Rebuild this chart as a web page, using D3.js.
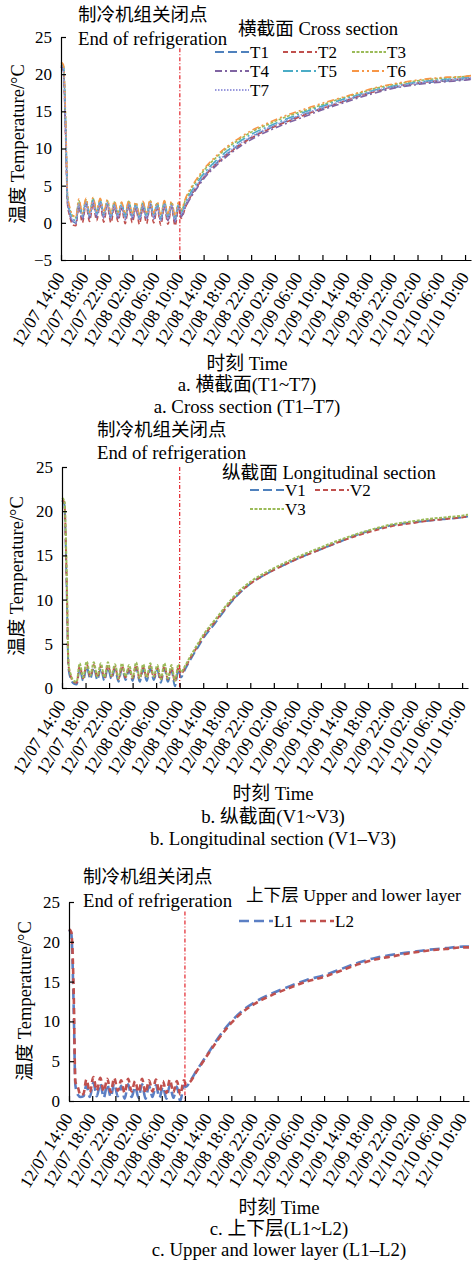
<!DOCTYPE html>
<html>
<head>
<meta charset="utf-8">
<script src="https://cdn.jsdelivr.net/npm/d3@7"></script>
<style>
body { margin: 0; background: #fff; }
text { font-family: "Liberation Serif", "Times New Roman", "Noto Sans CJK SC", serif; fill: #000; }
</style>
</head>
<body>
<svg id="chart" width="473" height="1261"></svg>
<script>
// hours after 12/07 14:00
var hours = [0, 0.4, 0.8, 1.1, 1.5, 2.0, 2.5,
  3.0, 3.6, 4.2, 4.8, 5.4, 6.0, 6.6, 7.2, 7.8, 8.4, 9.0, 9.6, 10.2, 10.8, 11.4, 12.0, 12.6, 13.2, 13.8, 14.4, 15.0, 15.6, 16.2, 16.8, 17.4, 18.0, 18.6, 19.2, 19.8,
  20.2, 21, 22, 23, 24, 26, 28, 30, 32, 35, 38, 41, 44, 47, 50, 53, 56, 59, 62, 65, 68, 69]

var tickHours = [0, 4, 8, 12, 16, 20, 24, 28, 32, 36, 40, 44, 48, 52, 56, 60, 64, 68]
var tickLabels = ["12/07 14:00", "12/07 18:00", "12/07 22:00", "12/08 02:00", "12/08 06:00", "12/08 10:00",
  "12/08 14:00", "12/08 18:00", "12/08 22:00", "12/09 02:00", "12/09 06:00", "12/09 10:00",
  "12/09 14:00", "12/09 18:00", "12/09 22:00", "12/10 02:00", "12/10 06:00", "12/10 10:00"]
var refrigerationOff = 20   // 12/08 10:00

// a. cross section
var T1 = [21.2, 20.8, 12.0, 3.0, 1.2, 0.2, 0.0,
  2.6, 0.6, 2.8, 0.8, 3.0, 1.0, 2.9, 0.8, 2.7, 0.7, 2.5, 0.8, 2.4, 0.6, 2.6, 0.7, 2.4, 0.5, 2.5, 0.6, 2.7, 0.7, 2.4, 0.4, 2.6, 0.5, 2.5, 0.3, 2.4,
  1.0, 2.4, 3.9, 5.1, 6.2, 7.9, 9.3, 10.5, 11.5, 12.7, 13.7, 14.6, 15.4, 16.2, 17.0, 17.7, 18.2, 18.6, 18.9, 19.1, 19.3, 19.4]
var T2 = [21.0, 20.5, 11.0, 2.5, 0.8, -0.3, -0.4,
  2.2, 0.0, 2.5, 0.2, 2.6, 0.3, 2.5, 0.1, 2.3, 0.0, 2.1, 0.2, 2.0, -0.1, 2.2, 0.0, 2.0, -0.2, 2.1, -0.1, 2.3, 0.0, 2.0, -0.3, 2.2, -0.2, 2.1, -0.4, 2.0,
  0.6, 2.2, 3.8, 5.0, 6.1, 7.8, 9.2, 10.4, 11.4, 12.6, 13.6, 14.5, 15.4, 16.2, 17.0, 17.7, 18.3, 18.7, 19.0, 19.2, 19.4, 19.5]
var T3 = [21.5, 21.2, 13.0, 3.6, 1.8, 0.9, 0.7,
  3.0, 1.2, 3.1, 1.3, 3.3, 1.5, 3.2, 1.3, 3.0, 1.2, 2.8, 1.3, 2.7, 1.1, 2.9, 1.2, 2.7, 1.0, 2.8, 1.1, 3.0, 1.2, 2.7, 0.9, 2.9, 1.0, 2.8, 0.8, 2.7,
  1.6, 3.2, 4.7, 5.9, 7.0, 8.7, 10.1, 11.2, 12.2, 13.3, 14.3, 15.1, 15.9, 16.7, 17.4, 18.1, 18.6, 19.0, 19.3, 19.5, 19.7, 19.8]
var T4 = [21.0, 20.6, 11.5, 2.8, 1.0, 0.1, -0.1,
  2.4, 0.4, 2.6, 0.6, 2.8, 0.7, 2.7, 0.6, 2.5, 0.5, 2.3, 0.6, 2.2, 0.4, 2.4, 0.5, 2.2, 0.3, 2.3, 0.4, 2.5, 0.5, 2.2, 0.2, 2.4, 0.3, 2.3, 0.1, 2.2,
  0.8, 2.2, 3.6, 4.8, 5.9, 7.6, 9.0, 10.2, 11.2, 12.4, 13.4, 14.3, 15.2, 16.0, 16.8, 17.5, 18.1, 18.5, 18.8, 19.0, 19.2, 19.3]
var T5 = [21.3, 21.0, 12.5, 3.3, 1.5, 0.5, 0.3,
  2.8, 0.9, 3.0, 1.0, 3.1, 1.2, 3.0, 1.0, 2.8, 0.9, 2.6, 1.0, 2.5, 0.8, 2.7, 0.9, 2.5, 0.7, 2.6, 0.8, 2.8, 0.9, 2.5, 0.6, 2.7, 0.7, 2.6, 0.5, 2.5,
  1.3, 2.8, 4.3, 5.5, 6.6, 8.3, 9.7, 10.9, 11.9, 13.0, 14.0, 14.9, 15.7, 16.5, 17.2, 17.9, 18.4, 18.8, 19.1, 19.3, 19.5, 19.6]
var T6 = [21.6, 21.3, 13.5, 3.8, 2.0, 1.0, 0.8,
  3.2, 1.3, 3.3, 1.4, 3.4, 1.6, 3.3, 1.4, 3.1, 1.3, 2.9, 1.4, 2.8, 1.2, 3.0, 1.3, 2.8, 1.1, 2.9, 1.2, 3.1, 1.3, 2.8, 1.0, 3.0, 1.1, 2.9, 0.9, 2.8,
  1.8, 3.4, 4.9, 6.1, 7.2, 8.9, 10.3, 11.4, 12.4, 13.5, 14.5, 15.3, 16.1, 16.8, 17.5, 18.2, 18.7, 19.1, 19.4, 19.6, 19.7, 19.8]
var T7 = [21.1, 20.7, 12.2, 3.1, 1.3, 0.3, 0.1,
  2.5, 0.7, 2.7, 0.9, 2.9, 1.0, 2.8, 0.8, 2.6, 0.7, 2.4, 0.8, 2.3, 0.6, 2.5, 0.7, 2.3, 0.5, 2.4, 0.6, 2.6, 0.7, 2.3, 0.4, 2.5, 0.5, 2.4, 0.3, 2.3,
  1.1, 2.5, 4.0, 5.2, 6.3, 8.0, 9.4, 10.6, 11.6, 12.8, 13.8, 14.7, 15.5, 16.3, 17.1, 17.8, 18.3, 18.7, 19.0, 19.2, 19.4, 19.5]

// b. longitudinal section
var V1 = [21.2, 20.8, 11.0, 2.2, 1.0, 0.5, 0.4,
  2.2, 0.8, 2.4, 1.0, 2.3, 0.9, 2.2, 0.8, 2.3, 1.0, 2.1, 0.7, 2.2, 0.9, 2.0, 0.8, 2.3, 0.7, 2.1, 0.8, 2.2, 0.9, 2.0, 0.6, 2.2, 0.7, 2.0, 0.2, 2.1,
  1.2, 2.2, 3.4, 4.5, 5.6, 7.3, 9.1, 10.6, 11.8, 13.0, 14.0, 14.9, 15.7, 16.5, 17.3, 17.9, 18.4, 18.7, 18.9, 19.1, 19.3, 19.4]
var V2 = [21.3, 21.0, 12.0, 2.6, 1.3, 0.7, 0.6,
  2.5, 1.1, 2.7, 1.3, 2.6, 1.2, 2.5, 1.1, 2.6, 1.3, 2.4, 1.0, 2.5, 1.2, 2.3, 1.1, 2.6, 1.0, 2.4, 1.1, 2.5, 1.2, 2.3, 0.9, 2.5, 1.0, 2.3, 0.7, 2.4,
  1.6, 2.4, 3.6, 4.7, 5.8, 7.5, 9.2, 10.7, 11.8, 13.0, 14.0, 14.9, 15.7, 16.5, 17.2, 17.8, 18.3, 18.6, 18.9, 19.1, 19.3, 19.4]
var V3 = [21.5, 21.2, 13.0, 2.8, 1.5, 0.8, 0.7,
  2.8, 1.2, 3.0, 1.4, 2.9, 1.3, 2.8, 1.2, 2.9, 1.4, 2.7, 1.1, 2.8, 1.3, 2.6, 1.2, 2.9, 1.1, 2.7, 1.2, 2.8, 1.3, 2.6, 1.0, 2.8, 1.1, 2.6, 0.8, 2.7,
  1.8, 2.6, 3.8, 4.9, 6.0, 7.7, 9.4, 10.9, 12.0, 13.2, 14.2, 15.1, 15.9, 16.7, 17.4, 18.0, 18.5, 18.8, 19.1, 19.3, 19.5, 19.6]

// c. upper and lower layer
var L1 = [21.5, 21.0, 12.0, 2.0, 0.8, 0.5, 0.6,
  2.0, 0.5, 2.3, 0.6, 2.2, 0.4, 2.1, 0.5, 2.2, 0.6, 1.9, 0.3, 2.1, 0.5, 1.8, 0.4, 2.1, 0.3, 1.9, 0.5, 2.0, 0.4, 1.8, 0.3, 2.0, 0.4, 1.8, 0.0, 1.9,
  1.8, 2.6, 3.8, 4.9, 6.0, 8.2, 10.0, 11.4, 12.4, 13.5, 14.4, 15.2, 15.8, 16.6, 17.4, 18.0, 18.4, 18.7, 19.0, 19.2, 19.4, 19.4]
var L2 = [21.6, 21.2, 14.0, 2.4, 1.8, 0.7, 0.9,
  2.7, 1.1, 3.0, 1.3, 2.9, 1.2, 2.8, 1.1, 2.9, 1.3, 2.6, 1.0, 2.8, 1.2, 2.5, 1.1, 2.8, 1.0, 2.6, 1.2, 2.7, 1.1, 2.5, 1.0, 2.7, 1.1, 2.5, 0.8, 2.6,
  2.1, 2.5, 3.7, 4.8, 5.9, 8.0, 9.8, 11.2, 12.2, 13.3, 14.2, 15.0, 15.6, 16.4, 17.2, 17.8, 18.2, 18.6, 18.9, 19.1, 19.3, 19.3]

var svg = d3.select("#chart")

var panels = [
  {
    xRange: [61, 471], yDomain: [-5, 25], yRange: [260, 37], yTicks: [-5, 0, 5, 10, 15, 20, 25],
    lineTop: 23.5, width: 1.6,
    series: [
      { name: "T1", values: T1, color: "#4f81bd", dash: "9,4" },
      { name: "T2", values: T2, color: "#c0504d", dash: "5,3" },
      { name: "T3", values: T3, color: "#9bbb59", dash: "3,1.5" },
      { name: "T4", values: T4, color: "#8064a2", dash: "7,3,2,3" },
      { name: "T5", values: T5, color: "#4bacc6", dash: "10,3,2,3" },
      { name: "T6", values: T6, color: "#f79646", dash: "7,3,2,3,2,3" },
      { name: "T7", values: T7, color: "#9999dd", dash: "1.5,1.5" }
    ],
    legendTitle: "横截面 Cross section", legendTitlePos: [238, 28], legendTitleSize: 18.6,
    legendCols: [215, 283, 352], legendRows: [52, 71, 90], legendPerRow: 3,
    head: [78, 15, 38], yTitle: [18, 144],
    caption: [247, 363, 384, 406], captionCn: "a. 横截面(T1~T7)", captionEn: "a. Cross section (T1–T7)"
  },
  {
    xRange: [62, 468], yDomain: [0, 25], yRange: [688, 467], yTicks: [0, 5, 10, 15, 20, 25],
    lineTop: 25, width: 2,
    series: [
      { name: "V1", values: V1, color: "#4f81bd", dash: "9,4" },
      { name: "V2", values: V2, color: "#c0504d", dash: "5,3" },
      { name: "V3", values: V3, color: "#9bbb59", dash: "3,1.5" }
    ],
    legendTitle: "纵截面 Longitudinal section", legendTitlePos: [222, 472], legendTitleSize: 18.6,
    legendCols: [250, 315], legendRows: [490, 509], legendPerRow: 2,
    head: [97, 430, 452], yTitle: [17, 576],
    caption: [273, 793, 816, 838], captionCn: "b. 纵截面(V1~V3)", captionEn: "b. Longitudinal section (V1–V3)"
  },
  {
    xRange: [69, 469], yDomain: [0, 25], yRange: [1101, 902], yTicks: [0, 5, 10, 15, 20, 25],
    lineTop: 23.8, width: 2.6,
    series: [
      { name: "L1", values: L1, color: "#5b7fc4", dash: "10,5" },
      { name: "L2", values: L2, color: "#c0504d", dash: "6,4" }
    ],
    legendTitle: "上下层 Upper and lower layer", legendTitlePos: [246, 895], legendTitleSize: 17.6,
    legendCols: [239, 300], legendRows: [921], legendPerRow: 2,
    head: [83, 877, 900], yTitle: [25, 1001],
    caption: [279, 1207, 1228, 1249], captionCn: "c. 上下层(L1~L2)", captionEn: "c. Upper and lower layer (L1–L2)"
  }
]

panels.forEach(function(p) {
  var x = d3.scaleLinear().domain([0, 69]).range(p.xRange)
  var y = d3.scaleLinear().domain(p.yDomain).range(p.yRange)
  var g = svg.append("g")

  // lines
  var line = d3.line()
    .x(function(d, i) { return x(hours[i]) })
    .y(function(d) { return y(d) })
    .curve(d3.curveMonotoneX)
  p.series.forEach(function(s) {
    g.append("path")
      .attr("d", line(s.values))
      .attr("fill", "none")
      .attr("stroke", s.color)
      .attr("stroke-width", p.width)
      .attr("stroke-dasharray", s.dash)
  })

  // end of refrigeration marker
  g.append("line")
    .attr("x1", x(refrigerationOff)).attr("x2", x(refrigerationOff))
    .attr("y1", y(p.lineTop)).attr("y2", y(p.yDomain[0]))
    .attr("stroke", "#e3242b")
    .attr("stroke-width", 1.2)
    .attr("stroke-dasharray", "4,2,1,2")

  // axes
  var xAxis = d3.axisBottom(x).tickValues(tickHours)
    .tickFormat(function(d, i) { return tickLabels[i] })
    .tickSizeInner(-5).tickSizeOuter(0)
  var xg = g.append("g").attr("transform", "translate(0," + p.yRange[0] + ")").call(xAxis)
  xg.selectAll("text")
    .attr("x", 0).attr("y", 0).attr("dy", 0)
    .attr("text-anchor", "end")
    .attr("transform", "translate(4,17) rotate(-58)")
    .style("font-size", "17.5px")

  var yAxis = d3.axisLeft(y).tickValues(p.yTicks).tickSizeInner(-5).tickSizeOuter(0).tickPadding(9)
  var yg = g.append("g").attr("transform", "translate(" + p.xRange[0] + ",0)").call(yAxis)
  yg.selectAll("text").style("font-size", "17px")
  g.selectAll(".domain, .tick line").attr("stroke", "#000").attr("stroke-width", 1.2)
  g.selectAll(".tick text").attr("font-family", null)

  // y title
  g.append("text")
    .attr("transform", "translate(" + p.yTitle[0] + "," + p.yTitle[1] + ") rotate(-90)")
    .attr("text-anchor", "middle").attr("dominant-baseline", "central")
    .style("font-size", "18.5px")
    .text("温度 Temperature/°C")

  // header
  g.append("text").attr("x", p.head[0]).attr("y", p.head[1])
    .attr("dominant-baseline", "central").style("font-size", "18.5px").text("制冷机组关闭点")
  g.append("text").attr("x", p.head[0]).attr("y", p.head[2])
    .attr("dominant-baseline", "central").style("font-size", "18.8px").text("End of refrigeration")

  // legend
  g.append("text").attr("x", p.legendTitlePos[0]).attr("y", p.legendTitlePos[1])
    .attr("dominant-baseline", "central").style("font-size", p.legendTitleSize + "px").text(p.legendTitle)
  p.series.forEach(function(s, i) {
    var lx = p.legendCols[i % p.legendPerRow]
    var ly = p.legendRows[Math.floor(i / p.legendPerRow)]
    g.append("line")
      .attr("x1", lx).attr("x2", lx + 34).attr("y1", ly).attr("y2", ly)
      .attr("stroke", s.color).attr("stroke-width", Math.max(2, p.width))
      .attr("stroke-dasharray", s.dash)
    g.append("text").attr("x", lx + 35).attr("y", ly)
      .attr("dominant-baseline", "central").style("font-size", "17px").text(s.name)
  })

  // captions
  var cap = [["时刻 Time", p.caption[1]], [p.captionCn, p.caption[2]], [p.captionEn, p.caption[3]]]
  cap.forEach(function(c) {
    g.append("text").attr("x", p.caption[0]).attr("y", c[1])
      .attr("text-anchor", "middle").attr("dominant-baseline", "central")
      .style("font-size", "18.8px").text(c[0])
  })
})
</script>
</body>
</html>
